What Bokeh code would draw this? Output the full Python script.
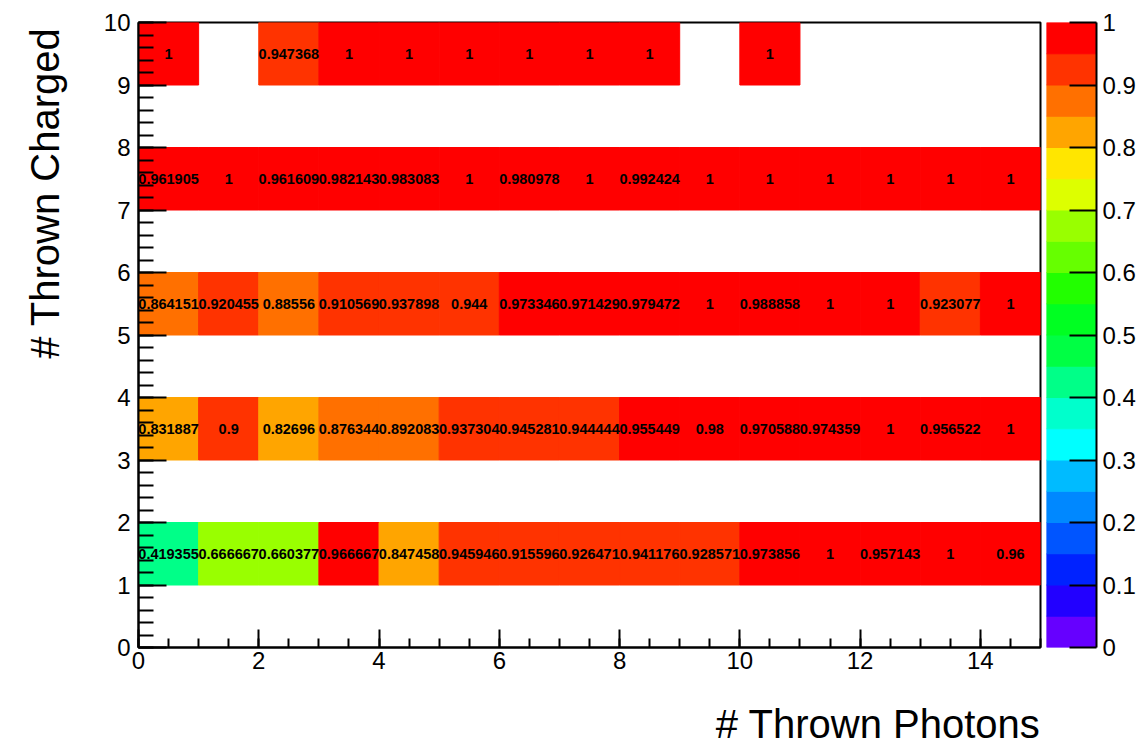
import numpy as np
from bokeh.plotting import figure
from bokeh.models import (ColumnDataSource, Range1d, SingleIntervalTicker, FixedTicker, Title)
from bokeh.transform import linear_cmap
from bokeh.layouts import row
from bokeh.core.properties import value
from bokeh.embed import file_html
from bokeh.resources import INLINE

# ---------------- data ----------------
photon_bins = [0, 1, 2, 3, 4, 5, 6, 7, 8, 9, 10, 11, 12, 13, 14]
charged_bins = [1, 3, 5, 7, 9]

eff_charged_1 = [0.419355, 0.666667, 0.660377, 0.966667, 0.847458, 0.945946, 0.915596,
                 0.926471, 0.941176, 0.928571, 0.973856, 1, 0.957143, 1, 0.96]
eff_charged_3 = [0.831887, 0.9, 0.82696, 0.876344, 0.892083, 0.937304, 0.945281,
                 0.944444, 0.955449, 0.98, 0.970588, 0.974359, 1, 0.956522, 1]
eff_charged_5 = [0.864151, 0.920455, 0.88556, 0.910569, 0.937898, 0.944, 0.973346,
                 0.971429, 0.979472, 1, 0.988858, 1, 1, 0.923077, 1]
eff_charged_7 = [0.961905, 1, 0.961609, 0.982143, 0.983083, 1, 0.980978,
                 1, 0.992424, 1, 1, 1, 1, 1, 1]
eff_charged_9 = [1, None, 0.947368, 1, 1, 1, 1, 1, 1, None, 1, None, None, None, None]

palette = ["#6600FF", "#2200FF", "#0022FF", "#0055FF", "#0088FF",
           "#00BBFF", "#00FFFF", "#00FFCC", "#00FF88", "#00FF44",
           "#00FF22", "#22FF00", "#66FF00", "#99FF00", "#DDFF00",
           "#FFE600", "#FFA500", "#FF7000", "#FF3300", "#FF0000"]

cb_ticks = [0, 0.1, 0.2, 0.3, 0.4, 0.5, 0.6, 0.7, 0.8, 0.9, 1]
cb_tick_labels = ["0", "0.1", "0.2", "0.3", "0.4", "0.5", "0.6", "0.7", "0.8", "0.9", "1"]

x_title = "# Thrown Photons"
y_title = "# Thrown Charged"

# ---------------- build table ----------------
rows = [eff_charged_1, eff_charged_3, eff_charged_5, eff_charged_7, eff_charged_9]
L, R, B, T, XC, YC, V, LAB = [], [], [], [], [], [], [], []
for yb, vals in zip(charged_bins, rows):
    for xb, v in zip(photon_bins, vals):
        if v is None:
            continue
        L.append(xb); R.append(xb + 1); B.append(yb); T.append(yb + 1)
        XC.append(xb + 0.5); YC.append(yb + 0.5); V.append(v); LAB.append(f"{v:g}")
src = ColumnDataSource(dict(left=L, right=R, bottom=B, top=T, xc=XC, yc=YC, eff=V, label=LAB))

FONT = "Liberation Sans"
H = 747
TOP = 22
BOTTOM = H - 647

p1 = figure(width=1046, height=H, x_range=Range1d(0, 15), y_range=Range1d(0, 10),
            output_backend="svg", toolbar_location=None,
            min_border_left=138, min_border_right=6, min_border_top=TOP, min_border_bottom=BOTTOM)
cmap = linear_cmap("eff", palette, 0, 1)
p1.quad(left="left", right="right", bottom="bottom", top="top", source=src,
        fill_color=cmap, line_color=cmap, line_width=1)
p1.text(x="xc", y="yc", text="label", source=src, text_align="center", text_baseline="middle",
        text_font=value(FONT), text_font_size="14.5px", text_font_style="bold", text_color="black")

p1.grid.visible = False
p1.outline_line_color = "black"
p1.outline_line_width = 2
p1.background_fill_color = "white"

p1.xaxis.ticker = SingleIntervalTicker(interval=2, num_minor_ticks=4)
p1.yaxis.ticker = SingleIntervalTicker(interval=1, num_minor_ticks=5)
for ax in (p1.xaxis[0], p1.yaxis[0]):
    ax.major_label_text_font = FONT
    ax.major_label_text_font_size = "24px"
    ax.major_label_text_color = "black"
    ax.major_tick_out = 0
    ax.minor_tick_out = 0
    ax.axis_line_width = 2
    ax.axis_line_color = "black"
    ax.major_tick_line_width = 2
    ax.minor_tick_line_width = 2
    ax.major_tick_line_color = "black"
    ax.minor_tick_line_color = "black"
    # blank axis label used only as spacing between tick labels and the title
    ax.axis_label = " "
    ax.axis_label_text_font_size = "1px"
p1.xaxis.major_tick_in = 18
p1.xaxis.minor_tick_in = 9
p1.xaxis.major_label_standoff = 4
p1.xaxis.axis_label_standoff = 24
p1.yaxis.major_tick_in = 28
p1.yaxis.minor_tick_in = 15
p1.yaxis.major_label_standoff = 8
p1.yaxis.axis_label_standoff = 30

p1.add_layout(Title(text=x_title, align="right", text_font=FONT, text_font_size="40px",
                    text_font_style="normal", text_color="black", standoff=0), "below")
p1.add_layout(Title(text=y_title, align="right", offset=5, text_font=FONT, text_font_size="40px",
                    text_font_style="normal", text_color="black", standoff=0), "left")

# ---------------- colour bar ----------------
levels = np.linspace(0, 1, len(palette) + 1)
p2 = figure(width=92, height=H, x_range=Range1d(0, 1), y_range=Range1d(0, 1),
            y_axis_location="right", x_axis_type=None,
            output_backend="svg", toolbar_location=None,
            min_border_left=0, min_border_right=40, min_border_top=TOP, min_border_bottom=BOTTOM)
p2.quad(left=0, right=1, bottom=levels[:-1], top=levels[1:], fill_color=palette,
        line_color=palette, line_width=1)
p2.grid.visible = False
p2.outline_line_color = None
ax = p2.yaxis[0]
ax.ticker = FixedTicker(ticks=cb_ticks, minor_ticks=[])
ax.major_label_overrides = {t: s for t, s in zip(cb_ticks, cb_tick_labels)}
ax.major_label_text_font = FONT
ax.major_label_text_font_size = "24px"
ax.major_label_text_color = "black"
ax.major_tick_in = 27
ax.major_tick_out = 0
ax.major_tick_line_width = 2
ax.axis_line_width = 2
ax.major_label_standoff = 6

layout = row(p1, p2)
open("out.html", "w").write(file_html(layout, INLINE))
